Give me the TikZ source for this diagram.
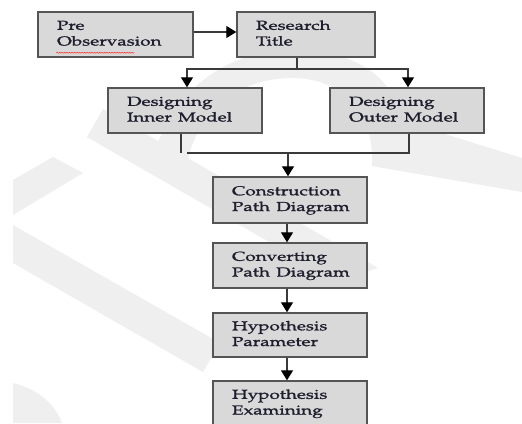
\documentclass[tikz,border=0pt]{standalone}
\usepackage[T1]{fontenc}
\renewcommand{\rmdefault}{ppl}
\usepackage{graphicx}
\usetikzlibrary{arrows.meta,decorations.pathmorphing}
\definecolor{boxfill}{HTML}{D9D9D9}
\definecolor{boxline}{HTML}{555555}
\definecolor{txt}{HTML}{1E1E2E}
\definecolor{lnk}{HTML}{3A3A3A}
\definecolor{wmark}{HTML}{EFEFEF}
\newcommand{\heavytext}[1]{\special{pdf:literal direct 2 Tr 0.15 w}#1\special{pdf:literal direct 0 Tr}}
\newcommand{\bt}[2]{\scalebox{1.45}[1]{\heavytext{\begin{tabular}{@{}l@{}}#1\\#2\end{tabular}}}}
\begin{document}
\begin{tikzpicture}[x=1pt,y=-1pt,
  stepbox/.style={draw=boxline,fill=boxfill,line width=1.4pt,rectangle,
    minimum height=45pt,inner xsep=19pt,inner ysep=0pt,align=left,
    text=txt,font=\fontsize{13}{15.7}\selectfont},
  w154/.style={text width=116pt},
  w138/.style={text width=100pt},
  w155/.style={text width=117pt},
  conn/.style={draw=lnk,line width=1.3pt},
  arr/.style={conn,-{Triangle[width=12pt,length=10pt,color=black]}}]
\useasboundingbox (0,0) rectangle (522,423);
\fill[white] (0,0) rectangle (522,423);
% faint watermark
\begin{scope}
\clip (13,0) rectangle (522,423);
\fill[wmark] (13,225) -- (13,263) -- (203,372) -- (220,343) -- cycle;
\fill[wmark] (13,180) -- (53,157) -- (83,173) -- (13,215) -- cycle;
\fill[wmark] (87,137) -- (103,109) -- (378,268) -- (337,281) -- cycle;
\fill[wmark] (13,383) .. controls (40,390) and (55,405) .. (62,423) -- (13,423) -- cycle;
\fill[wmark] (150,172) .. controls (165,90) and (230,50) .. (290,50)
  .. controls (360,50) and (395,80) .. (400,120) -- (522,158) -- (522,192)
  -- (372,166) .. controls (375,110) and (340,78) .. (292,78)
  .. controls (240,78) and (195,110) .. (185,172) -- cycle;
\end{scope}
\node[stepbox,w155] (pre) at (115.5,34.5) {\bt{Pre}{Observasion}};
\node[stepbox,w138] (title) at (306,34.5) {\bt{Research}{Title}};
\node[stepbox,w154] (inner) at (185,110.5) {\bt{Designing}{Inner Model}};
\node[stepbox,w154] (outer) at (407,110.5) {\bt{Designing}{Outer Model}};
\node[stepbox,w154,minimum height=46pt] (cons) at (290,200) {\bt{Construction}{Path Diagram}};
\node[stepbox,w154] (conv) at (290,265.5) {\bt{Converting}{Path Diagram}};
\node[stepbox,w154,minimum height=44pt] (hyp) at (290,335) {\bt{Hypothesis}{Parameter}};
\node[stepbox,w154] (exam) at (290,403.5) {\bt{Hypothesis}{Examining}};
% spell-check underline
\draw[red!80,line width=0.5pt,decorate,decoration={snake,segment length=2.5pt,amplitude=0.6pt}]
  ([xshift=19pt,yshift=5pt]pre.south west) -- ([xshift=97pt,yshift=5pt]pre.south west);
% connectors
\coordinate (split) at (297,69);
\coordinate (join) at (288,153);
\draw[arr] ([yshift=2.5pt]pre.east) -- ([yshift=2.5pt]title.west);
\draw[conn] ([xshift=-9pt]title.south) -- (split);
\draw[arr] (split) -| ([xshift=2pt]inner.north);
\draw[arr] (split) -| ([xshift=1pt]outer.north);
\draw[conn] ([xshift=-4pt]inner.south) -- ++(0,19);
\draw[conn] ([xshift=2pt]outer.south) |- (187,153);
\draw[arr] (join) -- ([xshift=-2pt]cons.north);
\draw[arr] ([xshift=-3pt]cons.south) -- ([xshift=-3pt]conv.north);
\draw[arr] ([xshift=-3pt]conv.south) -- ([xshift=-3pt]hyp.north);
\draw[arr] ([xshift=-3pt]hyp.south) -- ([xshift=-3pt]exam.north);
\end{tikzpicture}
\end{document}
